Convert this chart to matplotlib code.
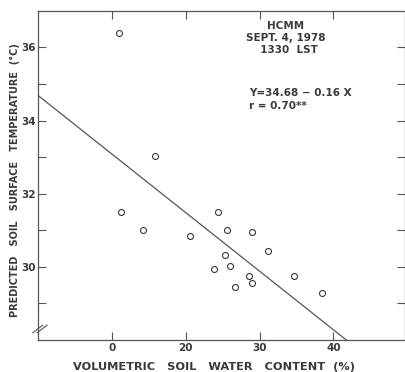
import matplotlib.pyplot as plt

# Soil water content (%) vs predicted soil surface temperature (C), HCMM 1978
water = [11.0, 15.8, 11.2, 14.2, 20.5, 24.3, 25.6, 29.0, 31.2, 25.3,
         23.8, 26.0, 28.6, 29.0, 26.7, 34.6, 38.5]
temp = [36.40, 33.03, 31.51, 31.01, 30.83, 31.51, 31.02, 30.95, 30.44, 30.33,
        29.95, 30.03, 29.74, 29.56, 29.46, 29.74, 29.29]

# regression printed on the chart
intercept = 34.68
slope = -0.16

x_ticks = [10, 20, 30, 40]
x_ticklabels = ['0', '20', '30', '40']
y_ticks = [29, 30, 31, 32, 33, 34, 35, 36]
y_ticklabels = ['', '30', '', '32', '', '34', '', '36']

ink = '#3a3a3a'
plt.rcParams['font.family'] = 'DejaVu Sans'

fig = plt.figure(figsize=(4.06, 3.72), dpi=100)
ax = fig.add_axes([0.0943, 0.086, 0.9032, 0.885])

ax.plot(water, temp, 'o', mfc='white', mec=ink, ms=4.3, mew=0.8)

x_end = (28 - intercept) / slope
ax.plot([0, x_end], [intercept, intercept + slope * x_end], color='#555555', lw=0.9)

ax.set_xlim(0, 49.7)
ax.set_ylim(28, 37)

ax.set_xticks(x_ticks)
ax.set_xticklabels(x_ticklabels, fontsize=7.5, color=ink, fontweight='bold')
ax.set_yticks(y_ticks)
ax.set_yticklabels(y_ticklabels, fontsize=7.5, color=ink, fontweight='bold')
ax.tick_params(direction='in', length=6, width=0.8, color='#555555',
               top=True, right=True, pad=2)

for s in ax.spines.values():
    s.set_color('#555555')
    s.set_linewidth(0.9)

# axis break marks on the lower left
for off in (0.0, 0.012):
    ax.plot([-0.015 + off, 0.012 + off], [0.022, 0.045], transform=ax.transAxes,
            color='#555555', lw=0.8, clip_on=False)

ax.set_xlabel('VOLUMETRIC   SOIL   WATER   CONTENT  (%)', fontsize=8.2,
              color=ink, fontweight='bold', va='center')
ax.xaxis.set_label_coords(0.479, -0.081)
ax.set_ylabel('PREDICTED   SOIL   SURFACE   TEMPERATURE  (°C)', fontsize=7,
              color=ink, fontweight='bold', va='center')
ax.yaxis.set_label_coords(-0.064, 0.486)

ax.text(33.5, 36.72, 'HCMM\nSEPT. 4, 1978\n  1330  LST', ha='center', va='top',
        fontsize=7.5, color=ink, fontweight='bold', linespacing=1.25)
ax.text(28.6, 34.88, 'Y=34.68 − 0.16 X\nr = 0.70**', ha='left', va='top',
        fontsize=7.5, color=ink, fontweight='bold', linespacing=1.3)

fig.savefig('out.png', dpi=100)
